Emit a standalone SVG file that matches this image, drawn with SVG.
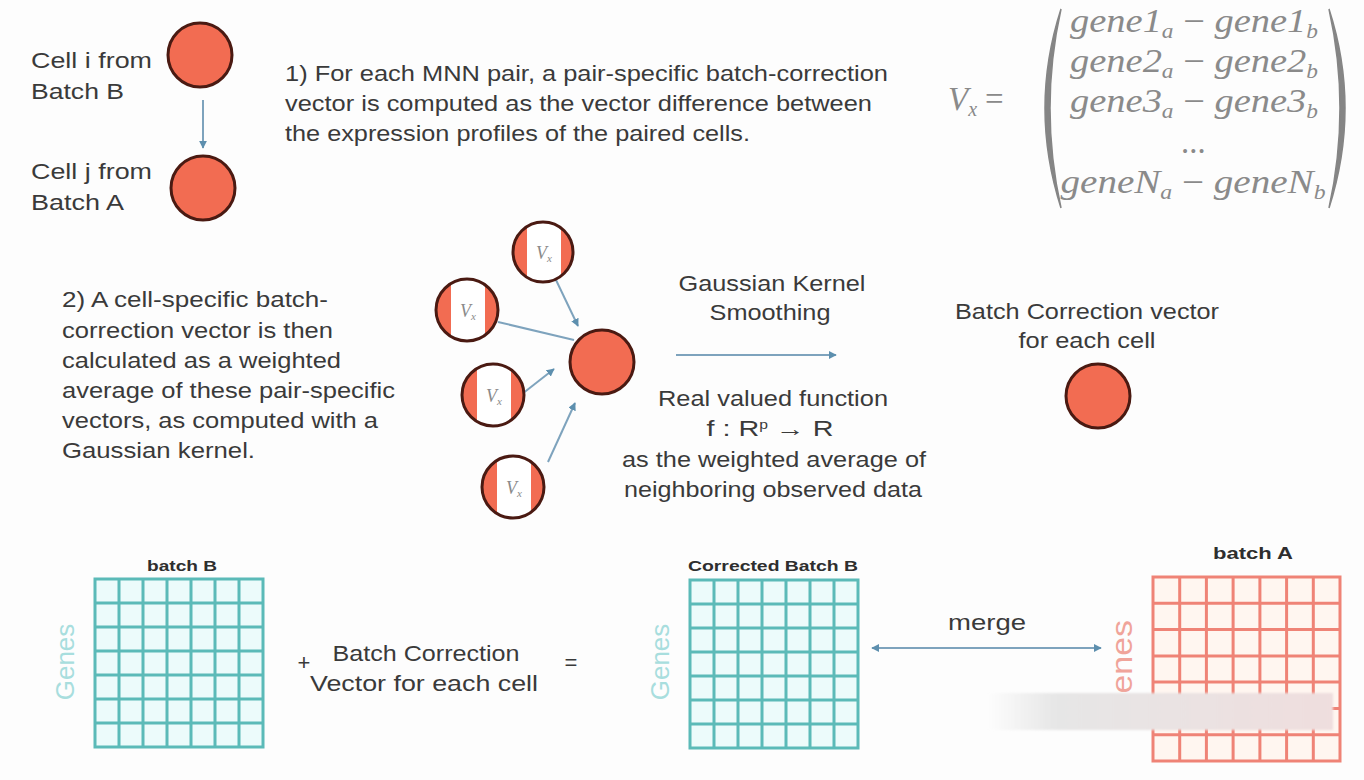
<svg xmlns="http://www.w3.org/2000/svg" width="1364" height="780" viewBox="0 0 1364 780">
<defs>
<style>
.t{font-family:"Liberation Sans",Arial,sans-serif;fill:#3a3a3a;font-size:22px;}
.c{text-anchor:middle;}
.lbl{font-family:"Liberation Sans",Arial,sans-serif;font-weight:bold;fill:#2e2e2e;text-anchor:middle;}
.m{font-family:"Liberation Serif","Times New Roman",serif;font-style:italic;fill:#8a8a8a;}
.cell{fill:#f26c52;stroke:#4a1a12;stroke-width:3;}
.conn{stroke:#7ea3bd;stroke-width:2;fill:none;}
.gridB{fill:#ecfbfb;stroke:#5bbab8;stroke-width:3;}
.gridA{fill:#fff6f0;stroke:#ef8376;stroke-width:3;}
.genesB{font-family:"Liberation Sans",Arial,sans-serif;font-size:26px;fill:#a8dede;text-anchor:middle;}
.genesA{font-family:"Liberation Sans",Arial,sans-serif;font-size:30px;fill:#f0a49a;}
</style>
<marker id="ah" viewBox="0 0 10 10" refX="9" refY="5" markerWidth="4" markerHeight="4" orient="auto-start-reverse">
<path d="M0 0L10 5L0 10z" fill="#5d8fae"/>
</marker>
<clipPath id="cp1"><circle cx="543" cy="252" r="30"/></clipPath>
<clipPath id="cp2"><circle cx="467" cy="310" r="31"/></clipPath>
<clipPath id="cp3"><circle cx="493" cy="395" r="31"/></clipPath>
<clipPath id="cp4"><circle cx="513" cy="487" r="31"/></clipPath>
<linearGradient id="wm" x1="0" y1="0" x2="1" y2="0">
<stop offset="0" stop-color="#e6e6e6" stop-opacity="0"/>
<stop offset="0.2" stop-color="#e6e6e6" stop-opacity="1"/>
<stop offset="1" stop-color="#efdede" stop-opacity="1"/>
</linearGradient>
<filter id="blur" x="-10%" y="-50%" width="120%" height="200%"><feGaussianBlur stdDeviation="1.2"/></filter>
</defs>
<rect width="1364" height="780" fill="#fdfdfd"/>

<g id="connectors">
<line class="conn" x1="203" y1="100" x2="203" y2="148" marker-end="url(#ah)"/>
<line class="conn" x1="556" y1="280" x2="578" y2="326" marker-end="url(#ah)"/>
<line class="conn" x1="498" y1="322" x2="574" y2="340"/>
<line class="conn" x1="522" y1="394" x2="554" y2="369" marker-end="url(#ah)"/>
<line class="conn" x1="548" y1="462" x2="575" y2="403" marker-end="url(#ah)"/>
<line class="conn" x1="676" y1="355" x2="836" y2="355" marker-end="url(#ah)"/>
<line class="conn" x1="872" y1="648" x2="1101" y2="648" marker-start="url(#ah)" marker-end="url(#ah)"/>
</g>

<g id="cell-i">
<circle class="cell" cx="200" cy="55" r="32"/>
<text class="t" x="31" y="68" font-size="23" textLength="121" lengthAdjust="spacingAndGlyphs">Cell i from</text>
<text class="t" x="31" y="99" font-size="23" textLength="93" lengthAdjust="spacingAndGlyphs">Batch B</text>
</g>
<g id="cell-j">
<circle class="cell" cx="203" cy="188" r="32"/>
<text class="t" x="31" y="179" font-size="23" textLength="121" lengthAdjust="spacingAndGlyphs">Cell j from</text>
<text class="t" x="31" y="210" font-size="23" textLength="93" lengthAdjust="spacingAndGlyphs">Batch A</text>
</g>

<g id="step1-text">
<text class="t" x="285" y="81" textLength="603" lengthAdjust="spacingAndGlyphs">1) For each MNN pair, a pair-specific batch-correction</text>
<text class="t" x="285" y="111" textLength="587" lengthAdjust="spacingAndGlyphs">vector is computed as the vector difference between</text>
<text class="t" x="285" y="141" textLength="465" lengthAdjust="spacingAndGlyphs">the expression profiles of the paired cells.</text>
</g>

<g id="formula">
<text class="m" x="948" y="110" font-size="33">V<tspan font-size="20" dy="6">x</tspan><tspan dy="-6" dx="8" font-style="normal">=</tspan></text>
<path d="M1061 9 Q1029 108 1061 208 Q1039 108 1061 9z" fill="#858585" stroke="#858585" stroke-width="1.5"/>
<path d="M1329 9 Q1361 108 1329 208 Q1351 108 1329 9z" fill="#858585" stroke="#858585" stroke-width="1.5"/>
<g font-size="33">
<text class="m" x="1194" y="32" text-anchor="middle" textLength="248" lengthAdjust="spacingAndGlyphs">gene1<tspan font-size="20" dy="6">a</tspan><tspan dy="-6" font-style="normal"> − </tspan>gene1<tspan font-size="20" dy="6">b</tspan></text>
<text class="m" x="1194" y="72" text-anchor="middle" textLength="248" lengthAdjust="spacingAndGlyphs">gene2<tspan font-size="20" dy="6">a</tspan><tspan dy="-6" font-style="normal"> − </tspan>gene2<tspan font-size="20" dy="6">b</tspan></text>
<text class="m" x="1194" y="112" text-anchor="middle" textLength="248" lengthAdjust="spacingAndGlyphs">gene3<tspan font-size="20" dy="6">a</tspan><tspan dy="-6" font-style="normal"> − </tspan>gene3<tspan font-size="20" dy="6">b</tspan></text>
<text class="m" x="1194" y="153" text-anchor="middle" font-style="normal">...</text>
<text class="m" x="1193" y="193" text-anchor="middle" textLength="265" lengthAdjust="spacingAndGlyphs">geneN<tspan font-size="20" dy="6">a</tspan><tspan dy="-6" font-style="normal"> − </tspan>geneN<tspan font-size="20" dy="6">b</tspan></text>
</g>
</g>

<g id="step2-text">
<text class="t" x="62" y="307" textLength="266" lengthAdjust="spacingAndGlyphs">2) A cell-specific batch-</text>
<text class="t" x="62" y="338" textLength="271" lengthAdjust="spacingAndGlyphs">correction vector is then</text>
<text class="t" x="62" y="368" textLength="279" lengthAdjust="spacingAndGlyphs">calculated as a weighted</text>
<text class="t" x="62" y="398" textLength="333" lengthAdjust="spacingAndGlyphs">average of these pair-specific</text>
<text class="t" x="62" y="428" textLength="316" lengthAdjust="spacingAndGlyphs">vectors, as computed with a</text>
<text class="t" x="62" y="458" textLength="193" lengthAdjust="spacingAndGlyphs">Gaussian kernel.</text>
</g>

<g id="v1">
<circle cx="543" cy="252" r="30" fill="#f26c52"/>
<rect x="527" y="215" width="34" height="75" fill="#ffffff" clip-path="url(#cp1)"/>
<circle cx="543" cy="252" r="30" fill="none" stroke="#4a1a12" stroke-width="3"/>
<text class="m" x="544" y="259" font-size="18" text-anchor="middle">V<tspan font-size="11" dy="3">x</tspan></text>
</g>
<g id="v2">
<circle cx="467" cy="310" r="31" fill="#f26c52"/>
<rect x="451" y="275" width="34" height="75" fill="#ffffff" clip-path="url(#cp2)"/>
<circle cx="467" cy="310" r="31" fill="none" stroke="#4a1a12" stroke-width="3"/>
<text class="m" x="468" y="317" font-size="18" text-anchor="middle">V<tspan font-size="11" dy="3">x</tspan></text>
</g>
<g id="v3">
<circle cx="493" cy="395" r="31" fill="#f26c52"/>
<rect x="477" y="360" width="34" height="75" fill="#ffffff" clip-path="url(#cp3)"/>
<circle cx="493" cy="395" r="31" fill="none" stroke="#4a1a12" stroke-width="3"/>
<text class="m" x="494" y="402" font-size="18" text-anchor="middle">V<tspan font-size="11" dy="3">x</tspan></text>
</g>
<g id="v4">
<circle cx="513" cy="487" r="31" fill="#f26c52"/>
<rect x="497" y="452" width="34" height="75" fill="#ffffff" clip-path="url(#cp4)"/>
<circle cx="513" cy="487" r="31" fill="none" stroke="#4a1a12" stroke-width="3"/>
<text class="m" x="514" y="494" font-size="18" text-anchor="middle">V<tspan font-size="11" dy="3">x</tspan></text>
</g>
<g id="center-cell">
<circle class="cell" cx="602" cy="362" r="32"/>
</g>

<g id="smoothing-labels">
<text class="t c" x="772" y="291" textLength="187" lengthAdjust="spacingAndGlyphs">Gaussian Kernel</text>
<text class="t c" x="770" y="320" textLength="121" lengthAdjust="spacingAndGlyphs">Smoothing</text>
<text class="t c" x="773" y="406" textLength="230" lengthAdjust="spacingAndGlyphs">Real valued function</text>
<text class="t c" x="770" y="436" textLength="127" lengthAdjust="spacingAndGlyphs">f : R<tspan font-size="12" dy="-7">p</tspan><tspan dy="7"> → R</tspan></text>
<text class="t c" x="774" y="467" textLength="304" lengthAdjust="spacingAndGlyphs">as the weighted average of</text>
<text class="t c" x="773" y="497" textLength="298" lengthAdjust="spacingAndGlyphs">neighboring observed data</text>
</g>

<g id="result-cell">
<text class="t c" x="1087" y="319" textLength="264" lengthAdjust="spacingAndGlyphs">Batch Correction vector</text>
<text class="t c" x="1087" y="348" textLength="137" lengthAdjust="spacingAndGlyphs">for each cell</text>
<circle class="cell" cx="1098" cy="396" r="32"/>
</g>

<g id="batchB">
<text class="lbl" x="182" y="571" font-size="15" textLength="70" lengthAdjust="spacingAndGlyphs">batch B</text>
<rect class="gridB" x="95" y="579" width="168" height="168"/>
<path class="gridB" fill="none" d="M119 579V747M143 579V747M167 579V747M191 579V747M215 579V747M239 579V747M95 603H263M95 627H263M95 651H263M95 675H263M95 699H263M95 723H263"/>
<text class="genesB" transform="translate(74 662) rotate(-90)">Genes</text>
</g>

<g id="plus-label">
<text class="t c" x="304" y="670">+</text>
<text class="t c" x="426" y="661" textLength="187" lengthAdjust="spacingAndGlyphs">Batch Correction</text>
<text class="t c" x="424" y="691" textLength="228" lengthAdjust="spacingAndGlyphs">Vector for each cell</text>
<text class="t c" x="571" y="670">=</text>
</g>

<g id="correctedB">
<text class="lbl" x="773" y="571" font-size="15" textLength="170" lengthAdjust="spacingAndGlyphs">Corrected Batch B</text>
<rect class="gridB" x="690" y="580" width="168" height="168"/>
<path class="gridB" fill="none" d="M714 580V748M738 580V748M762 580V748M786 580V748M810 580V748M834 580V748M690 604H858M690 628H858M690 652H858M690 676H858M690 700H858M690 724H858"/>
<text class="genesB" transform="translate(669 662) rotate(-90)">Genes</text>
</g>

<g id="merge-label">
<text class="t c" x="987" y="630" textLength="78" lengthAdjust="spacingAndGlyphs">merge</text>
</g>

<g id="batchA">
<text class="lbl" x="1253" y="559" font-size="17" textLength="80" lengthAdjust="spacingAndGlyphs">batch A</text>
<rect class="gridA" x="1153" y="577" width="187" height="184"/>
<path class="gridA" fill="none" d="M1179.7 577V761M1206.4 577V761M1233.1 577V761M1259.9 577V761M1286.6 577V761M1313.3 577V761M1153 603.3H1340M1153 629.6H1340M1153 655.9H1340M1153 682.1H1340M1153 708.4H1340M1153 734.7H1340"/>
<text class="genesA" transform="translate(1132 720) rotate(-90)" textLength="100" lengthAdjust="spacingAndGlyphs">Genes</text>
</g>

<rect x="988" y="693" width="345" height="37" fill="url(#wm)" filter="url(#blur)"/>
</svg>
